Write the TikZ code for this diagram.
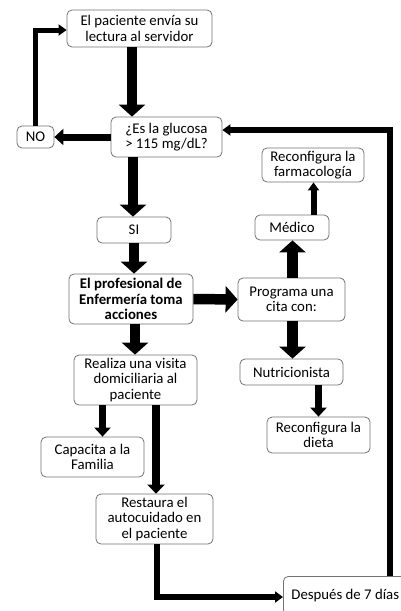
\documentclass[tikz,border=0pt]{standalone}
\usepackage{fontspec}
\setmainfont{Carlito}
\usetikzlibrary{arrows.meta,calc}
\begin{document}
\begin{tikzpicture}[x=1pt,y=-1pt,
  box/.style={draw=black!55,line width=0.8pt,rounded corners=5pt,fill=white,align=center,
    font=\fontsize{14.8pt}{15.5pt}\selectfont,inner sep=0pt},
  big/.style={line width=10.5pt,-{Triangle[width=26pt,length=12pt]}},
  med/.style={line width=7pt,-{Triangle[width=16pt,length=9pt]}},
  thin/.style={line width=5pt,-{Triangle[width=11pt,length=8pt]}}]
\useasboundingbox[fill=white] (0,0) rectangle (400,611);
\node[box,minimum width=145pt,minimum height=37pt] (box1) at (139.5,28.5) {El paciente envía su\\lectura al servidor};
\node[box,minimum width=111pt,minimum height=40pt] (glu) at (166.5,137) {¿Es la glucosa\\> 115 mg/dL?};
\node[box,minimum width=37pt,minimum height=22pt] (no) at (35.5,137) {NO};
\node[box,minimum width=102pt,minimum height=34pt] (farm) at (313,165) {Reconfigura la\\farmacología};
\node[box,minimum width=74pt,minimum height=25pt] (medico) at (292,227.5) {Médico};
\node[box,minimum width=74pt,minimum height=26pt] (si) at (134,230) {SI};
\node[box,minimum width=124pt,minimum height=50pt,font=\fontsize{14.8pt}{15.5pt}\selectfont\bfseries] (prof) at (131,299) {El profesional de\\Enfermería toma\\acciones};
\node[box,minimum width=107pt,minimum height=43pt] (prog) at (291.5,299.5) {Programa una\\cita con:};
\node[box,minimum width=123pt,minimum height=50pt] (real) at (135.5,380) {Realiza una visita\\domiciliaria al\\paciente};
\node[box,minimum width=103pt,minimum height=26pt] (nutri) at (291.5,372) {Nutricionista};
\node[box,minimum width=103pt,minimum height=36pt] (dieta) at (318.5,435) {Reconfigura la\\dieta};
\node[box,minimum width=103pt,minimum height=40pt] (cap) at (92.5,457) {Capacita a la\\Familia};
\node[box,minimum width=117pt,minimum height=50pt] (rest) at (154.5,519) {Restaura el\\autocuidado en\\el paciente};
\node[box,anchor=north west,text width=130pt,align=flush left,inner xsep=8pt,minimum height=38pt] (des) at (283,576) {Después de 7 días};
% connectors
\draw[big] (box1.south -| 132,0) -- (glu.north -| 132,0);
\draw[med] (glu.west) -- (no.east);
\draw[thin] (no.north) |- (box1.west |- 0,30);
\draw[big] (glu.south -| 133,0) -- (si.north -| 133,0);
\draw[big] (si.south -| 134,0) -- (prof.north -| 134,0);
\draw[big] (prof.east) -- (prog.west);
\draw[big] (prog.north -| 292.5,0) -- (medico.south -| 292.5,0);
\draw[thin,line width=6pt] (medico.north -| 313.5,0) -- (farm.south -| 313.5,0);
\draw[big] (prog.south -| 292.5,0) -- (nutri.north -| 292.5,0);
\draw[med] (nutri.south -| 318.5,0) -- (dieta.north -| 318.5,0);
\draw[big] (prof.south -| 135,0) -- (real.north -| 135,0);
\draw[med] (real.south -| 102.5,0) -- (cap.north -| 102.5,0);
\draw[med,line width=8pt,-{Triangle[width=17pt,length=9pt]}] (real.south -| 156,0) -- (rest.north -| 156,0);
\draw[thin,line width=6pt] (rest.south -| 156.5,0) |- (des.west |- 0,597);
\draw[thin,line width=5.5pt] (des.north -| 390,0) |- (glu.east |- 0,130);
\end{tikzpicture}
\end{document}
